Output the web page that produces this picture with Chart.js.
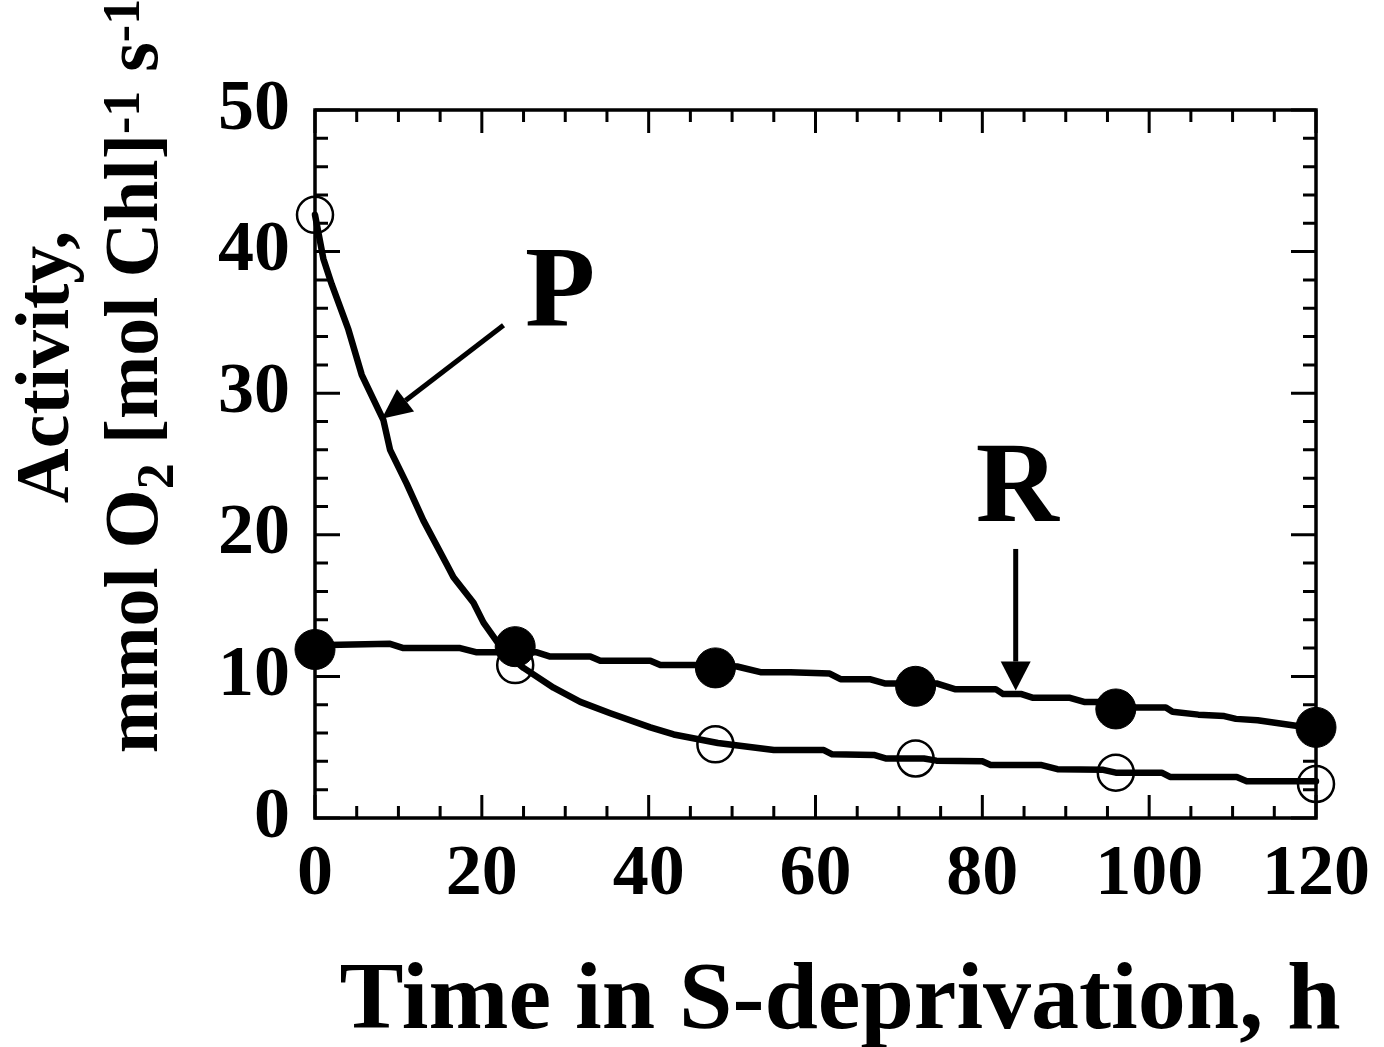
<!DOCTYPE html>
<html>
<head>
<meta charset="utf-8">
<script src="https://cdn.jsdelivr.net/npm/chart.js@4.4.1/dist/chart.umd.min.js"></script>
<style>
  html, body { margin: 0; padding: 0; background: #ffffff; }
  #wrap { width: 1384px; height: 1047px; }
</style>
</head>
<body>
<div id="wrap"><canvas id="c" width="1384" height="1047"></canvas></div>
<script>
// ---------- data ----------
const times = [0, 24, 48, 72, 96, 120];
const pActivity = [42.6, 10.8, 5.2, 4.2, 3.2, 2.4];     // P, open circles
const rActivity = [11.9, 12.1, 10.6, 9.3, 7.7, 6.4];    // R, filled circles

const pCurveX = [0, 1, 2, 4, 5.6, 8.2, 9, 11, 13, 15.8, 16.6, 19, 20.2, 22.6, 25, 28.6, 31.8, 35.4, 40.2, 43, 48.3, 55, 61, 62, 67, 68.5, 73, 74.5, 80, 81, 87, 89, 94.5, 96, 101.5, 102.5, 110.5, 111.7, 120];
const pCurveY = [42.6, 39.5, 37.7, 34.5, 31.3, 28.1, 26.0, 23.6, 21.0, 17.9, 17.0, 15.2, 13.8, 11.8, 10.6, 9.2, 8.2, 7.4, 6.4, 5.9, 5.3, 4.8, 4.8, 4.5, 4.45, 4.2, 4.2, 4.05, 4.0, 3.75, 3.75, 3.45, 3.4, 3.2, 3.2, 2.9, 2.9, 2.6, 2.6];

const rCurveX = [0, 9, 10.6, 17.4, 19.4, 26.6, 28.2, 33, 34.2, 40.2, 41.4, 46.2, 50.6, 53.4, 57, 61.7, 63, 66.5, 68.3, 74.5, 76.7, 81.6, 82.5, 84.7, 86, 90.4, 92.2, 94, 98.4, 102, 102.8, 105.9, 109, 110.4, 113, 117.8, 120];
const rCurveY = [12.2, 12.3, 12.0, 12.0, 11.7, 11.7, 11.4, 11.4, 11.1, 11.1, 10.8, 10.8, 10.7, 10.3, 10.3, 10.2, 9.8, 9.8, 9.5, 9.5, 9.1, 9.1, 8.75, 8.75, 8.5, 8.5, 8.2, 8.2, 7.8, 7.8, 7.5, 7.3, 7.2, 7.0, 6.9, 6.5, 6.3];

const xTickValues = [0, 20, 40, 60, 80, 100, 120];
const yTickValues = [0, 10, 20, 30, 40, 50];
const xMinorStep = 5;
const yMinorStep = 2;

const xTitle = 'Time in S-deprivation, h';
const yTitleLine1 = 'Activity,';
const yTitleLine2 = [['mmol O', 0], ['2', -1], [' [mol Chl]', 0], ['-1', 1], [' s', 0], ['-1', 1]];

// annotation anchors (data coordinates)
const labelP = { text: 'P', x: 29.4, y: 34.8 };
const labelR = { text: 'R', x: 84.2, y: 21.0 };
const arrowP = { from: [22.6, 34.8], to: [8.0, 28.2] };
const arrowR = { from: [84.0, 19.0], to: [84.0, 9.0] };

// ---------- helpers ----------
const SERIF = '"Liberation Serif", "Times New Roman", serif';
const toXY = (xs, ys) => xs.map((x, i) => ({ x: x, y: ys[i] }));

function drawArrow(ctx, x1, y1, x2, y2, lw, headLen, headHalf) {
  const ang = Math.atan2(y2 - y1, x2 - x1);
  const bx = x2 - headLen * Math.cos(ang), by = y2 - headLen * Math.sin(ang);
  ctx.save();
  ctx.strokeStyle = '#000'; ctx.fillStyle = '#000';
  ctx.lineWidth = lw; ctx.lineCap = 'butt';
  ctx.beginPath(); ctx.moveTo(x1, y1); ctx.lineTo(bx, by); ctx.stroke();
  ctx.beginPath();
  ctx.moveTo(x2, y2);
  ctx.lineTo(bx + headHalf * Math.sin(ang), by - headHalf * Math.cos(ang));
  ctx.lineTo(bx - headHalf * Math.sin(ang), by + headHalf * Math.cos(ang));
  ctx.closePath(); ctx.fill();
  ctx.restore();
}

const framePlugin = {
  id: 'frame',
  beforeDatasetsDraw(chart) {
    const ctx = chart.ctx, a = chart.chartArea;
    const xs = chart.scales.x, ys = chart.scales.y;
    ctx.save();
    ctx.strokeStyle = '#000';
    ctx.lineCap = 'butt';
    // inward ticks
    ctx.lineWidth = 3;
    for (let v = xs.min; v <= xs.max + 1e-9; v += xMinorStep) {
      const px = xs.getPixelForValue(v);
      const len = (Math.abs(v % 20) < 1e-9) ? 23 : 12;
      ctx.beginPath();
      ctx.moveTo(px, a.bottom); ctx.lineTo(px, a.bottom - len);
      ctx.moveTo(px, a.top); ctx.lineTo(px, a.top + len);
      ctx.stroke();
    }
    for (let v = ys.min; v <= ys.max + 1e-9; v += yMinorStep) {
      const py = ys.getPixelForValue(v);
      const len = (Math.abs(v % 10) < 1e-9) ? 25 : 13;
      ctx.beginPath();
      ctx.moveTo(a.left, py); ctx.lineTo(a.left + len, py);
      ctx.moveTo(a.right, py); ctx.lineTo(a.right - len, py);
      ctx.stroke();
    }
    // box
    ctx.lineWidth = 3.5;
    ctx.strokeRect(a.left, a.top, a.right - a.left, a.bottom - a.top);
    ctx.restore();
  },
  afterDraw(chart) {
    const ctx = chart.ctx;
    const xs = chart.scales.x, ys = chart.scales.y;
    ctx.save();
    ctx.fillStyle = '#000';
    // arrows
    drawArrow(ctx, xs.getPixelForValue(arrowP.from[0]), ys.getPixelForValue(arrowP.from[1]),
              xs.getPixelForValue(arrowP.to[0]), ys.getPixelForValue(arrowP.to[1]), 5, 30, 14);
    drawArrow(ctx, xs.getPixelForValue(arrowR.from[0]), ys.getPixelForValue(arrowR.from[1]),
              xs.getPixelForValue(arrowR.to[0]), ys.getPixelForValue(arrowR.to[1]), 5, 29, 15);
    // P and R labels
    ctx.font = 'bold 115px ' + SERIF;
    ctx.textAlign = 'center'; ctx.textBaseline = 'alphabetic';
    ctx.fillText(labelP.text, xs.getPixelForValue(labelP.x), ys.getPixelForValue(labelP.y));
    ctx.fillText(labelR.text, xs.getPixelForValue(labelR.x), ys.getPixelForValue(labelR.y));
    // x title
    ctx.font = 'bold 96px ' + SERIF;
    ctx.fillText(xTitle, 840, 1028);
    // y title line 1
    ctx.save();
    ctx.translate(68, 367); ctx.rotate(-Math.PI / 2);
    ctx.font = 'bold 76px ' + SERIF;
    ctx.textAlign = 'center';
    ctx.fillText(yTitleLine1, 0, 0);
    ctx.restore();
    // y title line 2 with sub/superscripts
    ctx.save();
    ctx.translate(157, 376); ctx.rotate(-Math.PI / 2);
    ctx.textAlign = 'left';
    const big = 'bold 76px ' + SERIF, small = 'bold 52px ' + SERIF;
    let total = 0;
    yTitleLine2.forEach(([t, s]) => { ctx.font = s ? small : big; total += ctx.measureText(t).width; });
    let u = -total / 2;
    yTitleLine2.forEach(([t, s]) => {
      ctx.font = s ? small : big;
      const v = s === 1 ? -18 : (s === -1 ? 16 : 0);
      ctx.fillText(t, u, v);
      u += ctx.measureText(t).width;
    });
    ctx.restore();
    ctx.restore();
  }
};

new Chart(document.getElementById('c'), {
  type: 'line',
  data: {
    datasets: [
      { label: 'P fit', data: toXY(pCurveX, pCurveY), borderColor: '#000', borderWidth: 6.5,
        pointRadius: 0, tension: 0, fill: false, clip: false, borderJoinStyle: 'round', borderCapStyle: 'round' },
      { label: 'R fit', data: toXY(rCurveX, rCurveY), borderColor: '#000', borderWidth: 6.5,
        pointRadius: 0, tension: 0, fill: false, clip: false, borderJoinStyle: 'round', borderCapStyle: 'round' },
      { label: 'P', data: toXY(times, pActivity), showLine: false, pointRadius: 18, pointBorderWidth: 2.5,
        pointBorderColor: '#000', pointBackgroundColor: 'rgba(0,0,0,0)', clip: false },
      { label: 'R', data: toXY(times, rActivity), showLine: false, pointRadius: 20, pointBorderWidth: 1,
        pointBorderColor: '#000', pointBackgroundColor: '#000', clip: false }
    ]
  },
  options: {
    responsive: false,
    animation: false,
    events: [],
    layout: { padding: { left: 0, right: 68, top: 110, bottom: 0 } },
    plugins: { legend: { display: false }, tooltip: { enabled: false }, title: { display: false } },
    scales: {
      x: {
        type: 'linear', min: 0, max: 120,
        afterBuildTicks: (s) => { s.ticks = xTickValues.map(v => ({ value: v })); },
        afterFit: (s) => { s.height = 1047 - 818; },
        grid: { display: false, drawTicks: false },
        border: { display: false },
        ticks: { color: '#000', padding: 14, maxRotation: 0, autoSkip: false,
                 font: { family: SERIF, size: 72, weight: 'bold' } }
      },
      y: {
        type: 'linear', min: 0, max: 50,
        afterBuildTicks: (s) => { s.ticks = yTickValues.map(v => ({ value: v })); },
        afterFit: (s) => { s.width = 315; },
        grid: { display: false, drawTicks: false },
        border: { display: false },
        ticks: { color: '#000', padding: 25, autoSkip: false,
                 font: { family: SERIF, size: 72, weight: 'bold' } }
      }
    }
  },
  plugins: [framePlugin]
});
</script>
</body>
</html>
